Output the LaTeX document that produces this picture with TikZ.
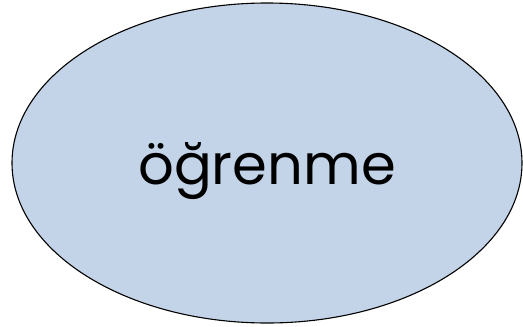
\documentclass[tikz,border=0pt]{standalone}
\usepackage{fontspec}
\setmainfont{Poppins}
\usetikzlibrary{shapes.geometric}
\definecolor{ellfill}{RGB}{195,212,232}
\tikzset{
  bubble/.style={ellipse, draw=black, line width=1.1pt, fill=ellfill, minimum width=510pt, minimum height=320pt, inner sep=0pt},
  label/.style={font=\fontsize{56}{66}\selectfont, text=black}
}
\begin{document}
\begin{tikzpicture}[x=1pt,y=-1pt]
\useasboundingbox (0,0) rectangle (523,327);
\node[bubble] (e) at (267,163) {};
\node[label, anchor=base] (t) at (267,184) {öğrenme};
\end{tikzpicture}
\end{document}
